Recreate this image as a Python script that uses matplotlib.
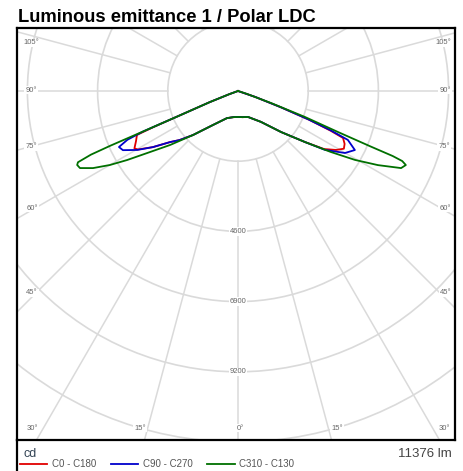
import numpy as np
import matplotlib
matplotlib.use("Agg")
import matplotlib.pyplot as plt
from matplotlib.patches import Circle
from matplotlib.lines import Line2D

plt.rcParams['font.family'] = ['Liberation Sans', 'DejaVu Sans']

# Luminous intensity (cd) vs. gamma angle (deg, 0 = nadir, negative = left half)
gamma_c0 = [-90, -75, -70, -68.5, -67.2, -66.9, -66.5, -63.9, -61.0, -59.7, -56.6, -53.1, -50, -45.6,
            -36.3, -22.2, -10, 0, 10, 21, 36.6, 46.4, 52.7, 56, 59, 61.4, 63.6, 65.9, 66.8, 68.0, 69.2,
            71, 74, 90]
cd_c0 = [0, 0, 300, 1000, 2190, 3000, 3610, 3720, 3880, 3800, 3340, 2790, 2500, 2060,
         1380, 960, 870, 850, 870, 910, 1260, 1950, 2760, 3400, 3750, 3950, 3900, 3770, 3300, 2500, 1500,
         600, 0, 0]

gamma_c90 = [-90, -75, -70, -68.5, -67.2, -66.9, -66.2, -64.8, -62.8, -59.7, -56.6, -53.1, -50, -45.6,
             -36.3, -22.2, -10, 0, 10, 21, 36.6, 46.4, 52.7, 55.9, 59.9, 63.2, 66.0, 67.0, 68.0, 69.2,
             71, 74, 90]
cd_c90 = [0, 0, 300, 1000, 2190, 3390, 3960, 4310, 4240, 3830, 3340, 2790, 2500, 2060,
          1380, 960, 870, 850, 870, 910, 1260, 1950, 2760, 3440, 4050, 4290, 3940, 3300, 2500, 1500,
          600, 0, 0]

gamma_c310 = [-90, -75, -70, -68.5, -67.2, -66.9, -66.8, -66.6, -66.0, -65.3, -64.0, -62.0, -60.0, -58.1,
              -55.7, -51.5, -45.6, -36.3, -22.2, -10, 0, 10, 21.0, 36.6, 46.4, 52.7, 56.7, 59.5, 62.1,
              64.7, 66.2, 66.9, 67.2, 67.3, 67.7, 68.8, 70.0, 72, 75, 90]
cd_c310 = [0, 0, 300, 1000, 2190, 3390, 4550, 5250, 5740, 5800, 5760, 5380, 4850, 4280,
           3610, 2840, 2060, 1380, 960, 870, 850, 870, 910, 1260, 1950, 2760, 3640, 4450, 5190,
           5910, 6010, 5850, 5500, 4700, 3540, 2350, 1150, 300, 0, 0]

series = [
    ("C0 - C180", gamma_c0, cd_c0, "#e00000"),
    ("C90 - C270", gamma_c90, cd_c90, "#0000cc"),
    ("C310 - C130", gamma_c310, cd_c310, "#007000"),
]

ring_values = [2300, 4600, 6900, 9200, 11500]
ring_labels = ["", "4600", "6900", "9200", ""]
flux_text = "11376 lm"

fig = plt.figure(figsize=(4.63, 4.71), dpi=100)
W, H = 463, 471
# plot frame in pixels: left 17, right 455, top 28, bottom 440 ; pole at (238, 91)
ax = fig.add_axes([17 / W, 1 - 440 / H, 438 / W, 412 / H])
s = 70.2 / 2300.0  # px per cd
ax.set_xlim((17 - 238) / s, (455 - 238) / s)
ax.set_ylim(-(440 - 91) / s, (91 - 28) / s)
ax.set_xticks([])
ax.set_yticks([])
for sp in ax.spines.values():
    sp.set_linewidth(1.6)
    sp.set_color('black')

grid_col = '#dadada'
for rv in ring_values:
    ax.add_patch(Circle((0, 0), rv, fill=False, ec=grid_col, lw=1.2, zorder=1))
for a in range(0, 360, 15):
    t = np.radians(a)
    ax.plot([ring_values[0] * np.sin(t), 30000 * np.sin(t)],
            [-ring_values[0] * np.cos(t), -30000 * np.cos(t)],
            color=grid_col, lw=1.1, zorder=1)

for rv, lab in zip(ring_values, ring_labels):
    if lab:
        ax.text(0, -rv, lab, ha='center', va='center', fontsize=5.5, color='#666666', zorder=3,
                bbox=dict(fc='white', ec='none', pad=0.5))

# angle labels (pixel positions inside the frame)
angle_pos = [("105°", 31, 43), ("90°", 31, 90), ("75°", 31, 147), ("60°", 32, 208), ("45°", 32, 293),
             ("30°", 32, 428), ("15°", 140, 428), ("0°", 240, 428), ("15°", 337, 428), ("30°", 444, 428),
             ("45°", 446, 293), ("60°", 445, 208), ("75°", 444, 147), ("90°", 445, 90), ("105°", 443, 43)]
for lab, px, py in angle_pos:
    ax.text((px - 238) / s, -(py - 91) / s, lab, ha='center', va='center', fontsize=5.5,
            color='#666666', zorder=3, bbox=dict(fc='white', ec='none', pad=0.6))

for name, g, cd, col in series:
    g = np.radians(np.array(g, dtype=float))
    cd = np.array(cd, dtype=float)
    ax.plot(cd * np.sin(g), -cd * np.cos(g), color=col, lw=1.3, label=name, zorder=4)

fig.text(18 / W, 1 - 22 / H, "Luminous emittance 1 / Polar LDC", fontsize=13.2, fontweight='bold',
         ha='left', va='baseline')

# legend strip below the chart
fig.add_artist(Line2D([17 / W, 17 / W], [0, 1 - 440 / H], color='black', lw=1.6))
fig.text(24 / W, 1 - 457 / H, "cd", fontsize=9, color='#334455', ha='left', va='baseline')
fig.text(452 / W, 1 - 457 / H, flux_text, fontsize=9.5, color='#444444', ha='right', va='baseline')
fig.legend(loc='center left', bbox_to_anchor=(20 / W, 1 - 464 / H), ncol=3, frameon=False,
           fontsize=7, handlelength=2.8, handletextpad=0.5, columnspacing=1.5,
           borderpad=0, borderaxespad=0, labelcolor='#555555')

fig.savefig("out.png", dpi=100)
